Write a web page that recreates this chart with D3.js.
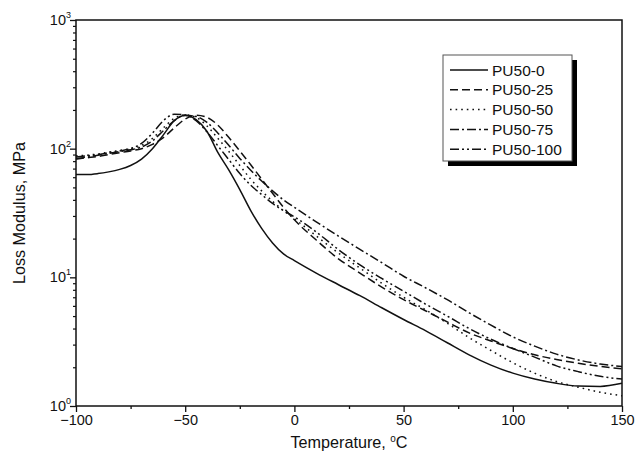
<!DOCTYPE html>
<html><head><meta charset="utf-8">
<script src="https://cdn.jsdelivr.net/npm/d3@7"></script>
<style>
html,body{margin:0;padding:0;background:#fff;}
text{font-family:"Liberation Sans",Arial,sans-serif;fill:#111;}
</style></head>
<body>
<svg id="chart" width="636" height="459"></svg>
<script>
// ---- data ----
const temps = [-100,-95,-90,-85,-80,-75,-70,-65,-60,-55,-50,-45,-40,-35,-30,-25,-20,-15,-10,-5,0,10,20,30,40,50,60,70,80,90,100,110,120,130,140,150];
const pu0   = [63,63,64,66,69,74,83,100,128,165,181,168,136,93,68,48,33,24,18.5,15.2,13.5,10.8,8.8,7.2,5.8,4.7,3.85,3.1,2.5,2.08,1.8,1.62,1.5,1.43,1.42,1.5];
const pu25  = [83,85,87,90,93,96,100,108,122,145,170,182,175,152,122,96,75,58,45,35,28,19.5,14,10.8,8.4,6.7,5.5,4.5,3.7,3.2,2.8,2.5,2.3,2.15,2.03,1.95];
const pu50  = [88,89,91,94,97,100,106,120,145,172,183,175,150,120,95,74,58,47,39,33,28.5,21,15.5,11.8,9.0,7.0,5.6,4.4,3.4,2.7,2.17,1.8,1.55,1.4,1.28,1.2];
const pu75  = [84,86,89,92,95,98,103,115,138,165,182,178,160,132,106,84,68,56,47,40,35,27,21,16.5,13,10.2,8.3,6.7,5.3,4.25,3.45,2.92,2.53,2.28,2.12,2.03];
const pu100 = [86,88,90,93,96,100,110,132,165,185,183,165,135,105,82,64,52,44,37.5,33,29.5,22.5,16.5,12.5,9.8,7.8,6.2,5.0,4.0,3.3,2.8,2.4,2.05,1.85,1.7,1.62];
const seriesNames = ["PU50-0","PU50-25","PU50-50","PU50-75","PU50-100"];
const seriesValues = [pu0,pu25,pu50,pu75,pu100];
const xTicks = [-100,-50,0,50,100,150];
const xMinorTicks = [-75,-25,25,75,125];
const yTicks = [1,10,100,1000];
const yTickExp = ["0","1","2","3"];
const xTitle = "Temperature, ";
const yTitle = "Loss Modulus, MPa";

// ---- layout ----
const L=76, R=622, T=20, B=406;
const svg = d3.select("#chart");
const x = d3.scaleLinear().domain([-100,150]).range([L,R]);
const y = d3.scaleLog().domain([1,1000]).range([B,T]);
const dashes = ["none","8,4","1.6,4","9,3,2,3","9,3,2,3,2,3"];

// minor y ticks
const yMinor = [];
for (let d=1; d<1000; d*=10) for (let k=2;k<=9;k++) yMinor.push(d*k);

// frame
svg.append("rect").attr("x",L).attr("y",T).attr("width",R-L).attr("height",B-T)
  .attr("fill","none").attr("stroke","#111").attr("stroke-width",1.5);

// x axis
const xAxis = d3.axisBottom(x).tickValues(xTicks).tickSize(6).tickPadding(3).tickFormat(d3.format("d"));
const gx = svg.append("g").attr("transform",`translate(0,${B})`).call(xAxis);
gx.select(".domain").remove();
gx.selectAll("line").attr("stroke","#111").attr("stroke-width",1.3);
gx.selectAll("text").attr("font-size",14.5).style("font-family","Liberation Sans, Arial, sans-serif").attr("fill","#111");
const gxm = svg.append("g").attr("transform",`translate(0,${B})`).call(d3.axisBottom(x).tickValues(xMinorTicks).tickSize(3).tickFormat(""));
gxm.select(".domain").remove();
gxm.selectAll("line").attr("stroke","#111").attr("stroke-width",1.3);

// y axis
const yAxis = d3.axisLeft(y).tickValues(yTicks).tickSize(6).tickPadding(3).tickFormat("");
const gy = svg.append("g").attr("transform",`translate(${L},0)`).call(yAxis);
gy.select(".domain").remove();
gy.selectAll("line").attr("stroke","#111").attr("stroke-width",1.3);
const gym = svg.append("g").attr("transform",`translate(${L},0)`).call(d3.axisLeft(y).tickValues(yMinor).tickSize(3).tickFormat(""));
gym.select(".domain").remove();
gym.selectAll("line").attr("stroke","#111").attr("stroke-width",1.2);
// y labels with superscripts
yTicks.forEach((v,i)=>{
  svg.append("text").attr("x",L-10).attr("y",y(v)+5).attr("text-anchor","end").attr("font-size",14.5).text("10");
  svg.append("text").attr("x",L-10).attr("y",y(v)-2).attr("font-size",9).text(yTickExp[i]);
});

// axis titles
const xt = svg.append("text").attr("x",(L+R)/2).attr("y",448).attr("text-anchor","middle").attr("font-size",16.2);
xt.append("tspan").text(xTitle);
xt.append("tspan").attr("font-size",10).attr("dy",-6).text("o");
xt.append("tspan").attr("dy",6).text("C");
svg.append("text").attr("transform",`translate(25,${(T+B)/2}) rotate(-90)`).attr("text-anchor","middle")
  .attr("font-size",16.2).text(yTitle);

// lines
const line = d3.line().x(d=>x(d[0])).y(d=>y(d[1])).curve(d3.curveMonotoneX);
seriesValues.forEach((vals,i)=>{
  svg.append("path").datum(temps.map((t,j)=>[t,vals[j]]))
    .attr("d",line).attr("fill","none").attr("stroke","#111").attr("stroke-width",1.5)
    .attr("stroke-dasharray",dashes[i]==="none"?null:dashes[i]);
});

// legend
const lgX=443, lgY=55, lgW=129, lgH=106;
svg.append("rect").attr("x",lgX+5).attr("y",lgY+5).attr("width",lgW).attr("height",lgH).attr("fill","#000");
svg.append("rect").attr("x",lgX).attr("y",lgY).attr("width",lgW).attr("height",lgH).attr("fill","#fff").attr("stroke","#555").attr("stroke-width",1);
seriesNames.forEach((n,i)=>{
  const yy = lgY+15+i*19.8;
  svg.append("line").attr("x1",lgX+7).attr("x2",lgX+45).attr("y1",yy).attr("y2",yy)
    .attr("stroke","#111").attr("stroke-width",1.5).attr("stroke-dasharray",dashes[i]==="none"?null:dashes[i]);
  svg.append("text").attr("x",lgX+49).attr("y",yy+5.5).attr("font-size",15.5).text(n);
});
</script>
</body></html>
